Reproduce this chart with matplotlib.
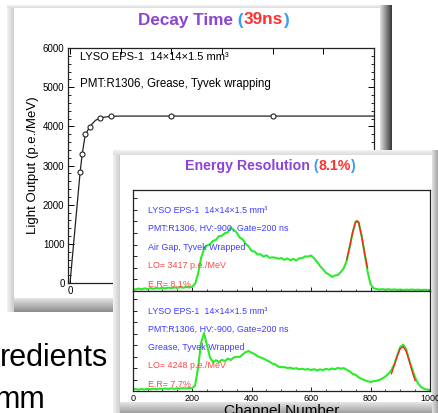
import numpy as np
import matplotlib
matplotlib.use('Agg')
import matplotlib.pyplot as plt
from matplotlib.patches import Rectangle
from matplotlib.ticker import MultipleLocator

plt.rcParams['font.family'] = ['Liberation Sans', 'DejaVu Sans']

# decay time panel: light output vs gate (ns)
gate_ns = [100, 120, 150, 200, 300, 400, 1000, 2000]
light_output = [2840, 3290, 3800, 3990, 4210, 4260, 4260, 4260]
fit_ns = [0, 50, 100, 120, 150, 200, 250, 300, 400, 500, 3000]
fit_lo = [0, 1420, 2840, 3290, 3780, 4010, 4150, 4220, 4255, 4262, 4262]

# energy resolution panel: pulse height spectra
channel = np.arange(0, 1001, 10)
air_gap_counts = [
    18, 13, 21, 15, 23, 17, 25, 19, 27, 21,
    28, 22, 30, 24, 32, 26, 34, 28, 36, 30,
    37, 62, 150, 285, 362, 392, 402, 432, 440, 472,
    476, 498, 505, 548, 526, 503, 460, 445, 405, 384,
    345, 340, 315, 316, 296, 308, 286, 290, 286, 278,
    284, 268, 280, 265, 277, 262, 282, 283, 298, 296,
    306, 282, 252, 216, 188, 157, 142, 122, 133, 138,
    163, 197, 262, 378, 503, 598, 592, 476, 322, 168,
    58, 24, 17, 13, 16, 12, 15, 11, 14, 10,
    13, 9, 12, 10, 13, 9, 12, 8, 11, 9,
    10]
grease_counts = [
    14, 18, 12, 17, 13, 19, 15, 20, 16, 21,
    17, 22, 18, 23, 19, 24, 21, 25, 22, 27,
    24, 48, 205, 418, 503, 396, 292, 252, 268, 252,
    272, 260, 282, 270, 292, 298, 296, 318, 338, 348,
    332, 322, 302, 292, 282, 268, 256, 238, 230, 212,
    207, 208, 200, 203, 193, 199, 189, 194, 186, 191,
    182, 190, 179, 188, 182, 193, 185, 196, 189, 201,
    194, 199, 184, 171, 149, 141, 119, 106, 94, 86,
    79, 85, 89, 96, 109, 126, 149, 182, 233, 312,
    383, 404, 362, 268, 192, 118, 66, 34, 19, 12,
    10]
air_fit_ch = [720, 730, 740, 750, 755, 760, 770, 780, 790]
air_fit = [270, 385, 510, 595, 605, 590, 470, 330, 200]
grease_fit_ch = [870, 880, 890, 900, 910, 920, 930, 940, 950]
grease_fit = [150, 225, 305, 370, 385, 345, 265, 170, 90]

air_labels = ['LYSO EPS-1  14\u00d714\u00d71.5 mm\u00b3', 'PMT:R1306, HV:-900, Gate=200 ns',
              'Air Gap, Tyvek Wrapped', 'LO= 3417 p.e./MeV', 'E.R= 8.1%']
grease_labels = ['LYSO EPS-1  14\u00d714\u00d71.5 mm\u00b3', 'PMT:R1306, HV:-900, Gate=200 ns',
                 'Grease, Tyvek Wrapped', 'LO= 4248 p.e./MeV', 'E.R= 7.7%']

W, H = 439, 413
fig = plt.figure(figsize=(W / 100, H / 100), dpi=100)
fig.patch.set_facecolor('white')

PURPLE = '#8c44d4'
BLUE_P = '#3a9cf5'
RED = '#ff3030'
TXT_BLUE = '#3c3cff'
TXT_RED = '#ff4646'
GREEN = '#2cea2c'


def px_axes(x0, y0, x1, y1, z):
    # axes given by pixel box (origin top-left)
    return fig.add_axes([x0 / W, 1 - y1 / H, (x1 - x0) / W, (y1 - y0) / H], zorder=z)


def overlay(z):
    a = fig.add_axes([0, 0, 1, 1], zorder=z)
    a.patch.set_visible(False)
    a.axis('off')
    return a


def grad(a, x0, x1, y0, y1, c0, c1, horizontal=True):
    v = np.linspace(c0, c1, 32)
    arr = v[None, :] if horizontal else v[:, None]
    a.imshow(arr, cmap='gray', vmin=0, vmax=1, extent=(x0, x1, y1, y0),
             aspect='auto', interpolation='bilinear')


def frame(a, x0, y0, x1, y1, bl, bt, br, bb):
    grad(a, x0, x0 + bl, y0, y1, 0.95, 0.80)
    grad(a, x0, x1, y0, y0 + bt, 0.95, 0.86, False)
    grad(a, x1 - br, x1, y0, y1, 0.88, 0.22)
    grad(a, x0 + bl, x1 - br, y1 - bb, y1, 0.90, 0.55, False)
    a.add_patch(Rectangle((x0 + bl, y0 + bt), x1 - br - x0 - bl, y1 - bb - y0 - bt,
                          fc='white', ec='none'))
    a.set_xlim(0, W)
    a.set_ylim(H, 0)


def color_title(a, x, y, parts, size):
    prev = a.text(x, y, parts[0][0], color=parts[0][1], fontsize=size,
                  fontweight='bold', ha='left', va='center')
    for s, c in parts[1:]:
        prev = a.annotate(s, xy=(1, 0), xycoords=prev, color=c, fontsize=size,
                          fontweight='bold', ha='left', va='bottom')


# ---- back layer: left frame, slide text
bg1 = overlay(0)
frame(bg1, 7, 5, 392, 312, 7, 3, 12, 14)
color_title(bg1, 138, 20, [('Decay Time', PURPLE), (' (', BLUE_P), ('39ns', RED), (')', BLUE_P)], 12.3)
bg1.text(108, 366, 'redients', fontsize=22, ha='right', va='baseline', color='black')
bg1.text(46, 408, 'mm', fontsize=22, ha='right', va='baseline', color='black')

# ---- decay time axes
ax1 = px_axes(68, 48, 374, 283, 1)
ax1.plot(fit_ns, fit_lo, color='#222222', lw=0.9)
ax1.plot(gate_ns, light_output, 'o', ms=3.6, mfc='white', mec='#222222', mew=0.8)
ax1.set_xlim(-20, 3000)
ax1.set_ylim(0, 6000)
ax1.xaxis.set_major_locator(MultipleLocator(500))
ax1.yaxis.set_major_locator(MultipleLocator(1000))
ax1.yaxis.set_minor_locator(MultipleLocator(200))
ax1.tick_params(direction='in', top=True, right=True, labelsize=7, length=4, width=0.7, pad=2.5)
ax1.tick_params(which='minor', direction='in', right=True, left=True, length=2, width=0.6)
for s in ax1.spines.values():
    s.set_linewidth(0.9)
    s.set_color('#222222')
ax1.set_ylabel('Light Output (p.e./MeV)', fontsize=9.5, labelpad=3)
ax1.text(0.04, 0.962, air_labels[0], transform=ax1.transAxes, fontsize=8, va='center')
ax1.text(0.04, 0.847, 'PMT:R1306, Grease, Tyvek wrapping', transform=ax1.transAxes,
         fontsize=8.3, va='center')

# ---- front layer: right frame
bg2 = overlay(2)
frame(bg2, 113, 150, 446, 416, 7, 5, 14, 14)
color_title(bg2, 185, 166, [('Energy Resolution', PURPLE), (' (', BLUE_P), ('8.1%', RED), (')', BLUE_P)], 10.2)

# ---- spectra axes
ax2 = px_axes(132.7, 190, 430, 291, 3)
ax3 = px_axes(132.7, 291, 430, 391, 3)
for a, counts, fch, fval, labels in [(ax2, air_gap_counts, air_fit_ch, air_fit, air_labels),
                                     (ax3, grease_counts, grease_fit_ch, grease_fit, grease_labels)]:
    a.plot(channel, counts, color=GREEN, lw=1.5)
    a.plot(fch, fval, color='#ff2020', lw=1.0)
    a.set_xlim(0, 1000)
    a.set_ylim(0, 870)
    a.xaxis.set_major_locator(MultipleLocator(200))
    a.xaxis.set_minor_locator(MultipleLocator(50))
    a.yaxis.set_major_locator(MultipleLocator(100))
    a.set_yticklabels([])
    a.tick_params(direction='in', labelsize=6.5, length=3, width=0.6, pad=2)
    a.tick_params(which='minor', direction='in', length=1.8, width=0.5)
    for s in a.spines.values():
        s.set_linewidth(0.9)
        s.set_color('#222222')
    for i, t in enumerate(labels):
        a.text(0.05, 0.80 - i * 0.183, t, transform=a.transAxes, fontsize=6.4,
               color=TXT_BLUE if i < 3 else TXT_RED, va='center')
ax2.set_xticklabels([])
ax3.set_xlabel('Channel Number', fontsize=11, labelpad=1)

fig.savefig('out.png', dpi=100)
